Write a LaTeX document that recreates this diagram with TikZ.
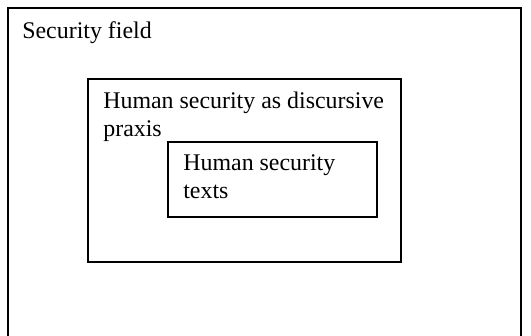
\documentclass[tikz,border=0pt]{standalone}
\usepackage{fontspec}
\setmainfont{Liberation Serif}
\begin{document}
\begin{tikzpicture}[x=0.02cm,y=-0.02cm,
    every node/.append style={inner sep=0pt,anchor=base west,align=left,
      font=\fontsize{13.6}{15.4}\selectfont},
    box/.style={draw,line width=1.1pt}]
    \clip (0,0) rectangle (531,335);
    % outer field, open at the bottom
    \draw[box] (8,345) -- (8,8) -- (521,8) -- (521,345);
    \draw[box] (88,79) rectangle (401,262);
    \draw[box] (168,142) rectangle (377,217);

    % base of a node is its last line
    \node (field) at (22,38) {Security field};
    \node (praxis) at (103,136) {Human security as discursive\\praxis};
    \node (texts) at (183,198) {Human security\\texts};
\end{tikzpicture}
\end{document}
